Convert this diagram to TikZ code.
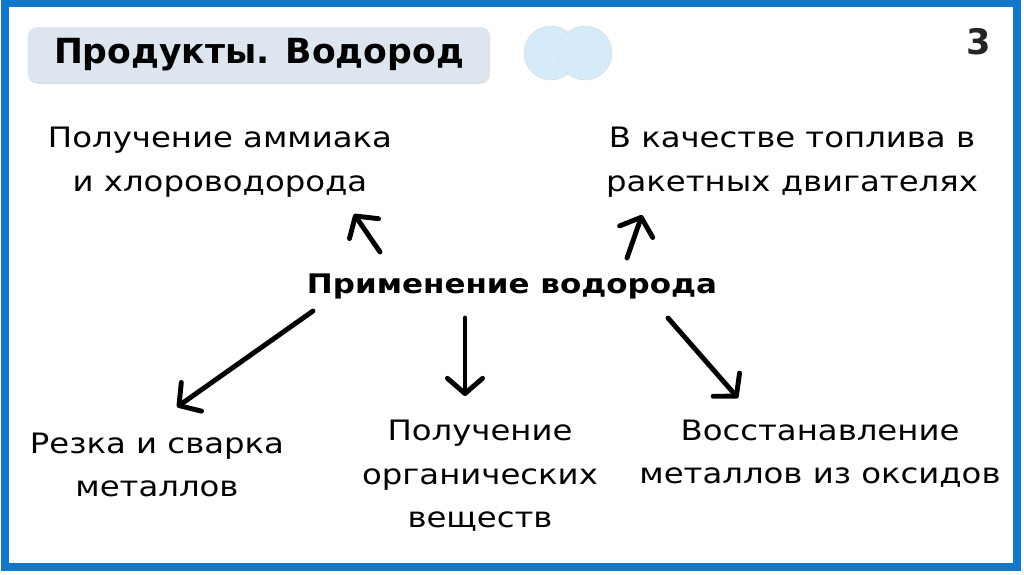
\documentclass[tikz,border=0pt]{standalone}
\usepackage{fontspec}
\setmainfont{DejaVu Sans}[FakeStretch=1.15]
\newfontfamily\titlefont{DejaVu Sans}
\usetikzlibrary{arrows.meta,shadows}
\definecolor{frameblue}{HTML}{1177C8}
\definecolor{titlegray}{HTML}{DDE6EF}
\definecolor{dotblue}{HTML}{D6EBFA}

\begin{document}
\begin{tikzpicture}[x=0.03cm,y=-0.03cm,>={Straight Barb[length=13pt,width=30pt,line cap=round,line join=round]},
	txt/.style={align=center,font=\fontsize{24}{37}\selectfont},
	arr/.style={->,line width=4.2pt,line cap=round},
	titlebox/.style={fill=titlegray,rounded corners=8pt,minimum width=13.86cm,minimum height=1.65cm,
		drop shadow={shadow xshift=0pt,shadow yshift=-1.5pt,opacity=.25},font=\titlefont\bfseries\fontsize{29.5}{29.5}\selectfont},
	dot/.style={circle,fill=dotblue,draw=black!12,line width=.6pt,minimum size=1.62cm,inner sep=0pt}]

\useasboundingbox (0,0) rectangle (1024,574);
\draw[frameblue,line width=6pt] (5,3) rectangle (1017,567);

\node[titlebox] 	(title) at (259,54.5) 	{Продукты. Водород};
\node[dot] 	(dotl) at (551,53) 	{};
\node[dot] 	(dotr) at (585,53) 	{};
\node[font=\titlefont\bfseries\fontsize{30}{30}\selectfont,text=black!85] 	(num) at (979,42) 	{3};

\node[txt,font=\bfseries\fontsize{23}{37}\selectfont] 	(usage) at (512,286) 	{Применение водорода};
\node[txt] 	(ammonia) at (220,162) 	{Получение аммиака\\и хлороводорода};
\node[txt] 	(fuel) at (792,162) 	{В качестве топлива в\\ракетных двигателях};
\node[txt] 	(welding) at (157,465) 	{Резка и сварка\\металлов};
\node[txt] 	(organic) at (480,476) 	{Получение\\органических\\веществ};
\node[txt] 	(reduction) at (820,454) 	{Восстанавление\\металлов из оксидов};

\coordinate (ammonia-in) at (354,214);
\coordinate (fuel-in) at (642,215);
\coordinate (welding-in) at (177,407);
\coordinate (organic-in) at (465,396);
\coordinate (reduction-in) at (738,398);

\path[arr] (usage) ++(-132,-34) coordinate (u1) edge (ammonia-in)
	(usage) ++(115,-28) coordinate (u2) edge (fuel-in)
	(usage) ++(-199,25) coordinate (u3) edge (welding-in)
	(usage) ++(-47,32) coordinate (u4) edge (organic-in)
	(usage) ++(156,32) coordinate (u5) edge (reduction-in);

\end{tikzpicture}
\end{document}
